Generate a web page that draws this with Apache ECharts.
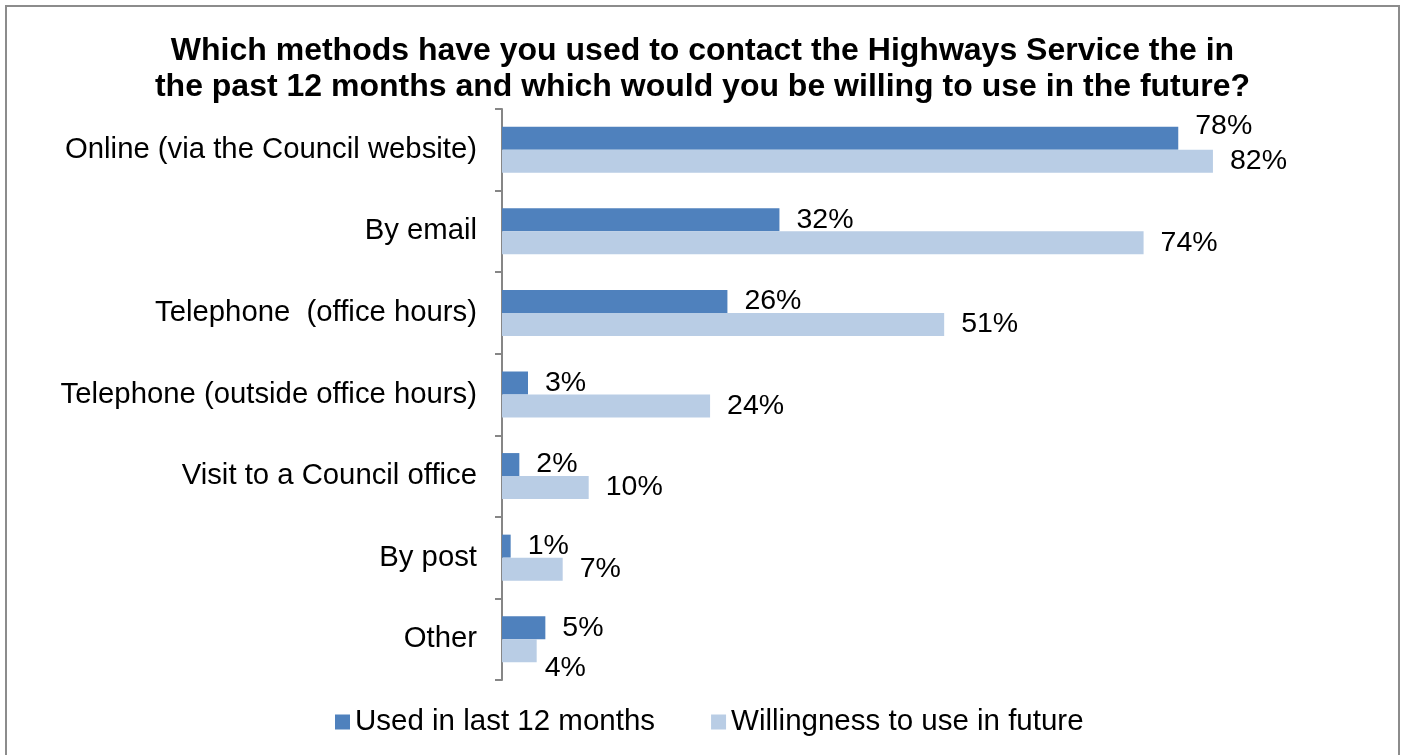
<!DOCTYPE html>
<html>
<head>
<meta charset="utf-8">
<script src="https://cdn.jsdelivr.net/npm/echarts@6/dist/echarts.min.js"></script>
<style>
  html, body { margin: 0; padding: 0; background: #fff; }
  #chart { width: 1405px; height: 755px; }
</style>
</head>
<body>
<div id="chart"></div>
<script>
// Contact methods for the Highways Service
const categories = [
  'Online (via the Council website)',
  'By email',
  'Telephone  (office hours)',
  'Telephone (outside office hours)',
  'Visit to a Council office',
  'By post',
  'Other'
];
const usedLast12Months = [78, 32, 26, 3, 2, 1, 5];
const willingnessFuture = [82, 74, 51, 24, 10, 7, 4];
const seriesNames = ['Used in last 12 months', 'Willingness to use in future'];
const titleLines = [
  'Which methods have you used to contact the Highways Service the in',
  'the past 12 months and which would you be willing to use in the future?'
];

const FONT = '"Liberation Sans", Arial, sans-serif';
const DARK = '#4F81BD';
const LIGHT = '#B9CDE5';

// Some labels are nudged where they would crowd a neighbour
const labelNudges = {
  0: { 0: [0, -12] },
  1: { 6: [-9, 17] }
};

function toData(values, seriesIndex) {
  return values.map((v, i) => {
    const nudge = labelNudges[seriesIndex] && labelNudges[seriesIndex][i];
    return nudge ? { value: v, label: { offset: nudge } } : { value: v };
  });
}

const chart = echarts.init(document.getElementById('chart'), null, { renderer: 'canvas' });

const labelStyle = {
  show: true,
  position: 'right',
  distance: 17,
  formatter: p => p.value + '%',
  fontFamily: FONT,
  fontSize: 28.5,
  color: '#000'
};

chart.setOption({
  animation: false,
  backgroundColor: '#fff',
  title: {
    text: titleLines.join('\n'),
    left: 'center',
    top: 28,
    textStyle: {
      fontFamily: FONT,
      fontWeight: 'bold',
      fontSize: 32,
      lineHeight: 36,
      color: '#000'
    }
  },
  graphic: [{
    type: 'rect',
    shape: { x: 6, y: 6, width: 1393, height: 760 },
    style: { fill: 'none', stroke: '#8c8c8c', lineWidth: 2 },
    silent: true
  }],
  legend: {
    data: seriesNames,
    bottom: 13,
    left: 330,
    icon: 'rect',
    itemWidth: 15,
    itemHeight: 15,
    itemGap: 56,
    textStyle: { fontFamily: FONT, fontSize: 29.5, color: '#000' }
  },
  grid: {
    left: 502,
    right: 36,
    top: 109,
    bottom: 75,
    containLabel: false
  },
  xAxis: {
    type: 'value',
    min: 0,
    max: 100,
    show: false
  },
  yAxis: {
    type: 'category',
    data: categories,
    inverse: true,
    axisLine: { show: true, lineStyle: { color: '#868686', width: 2 } },
    axisTick: { show: true, length: 7, lineStyle: { color: '#868686', width: 2 } },
    axisLabel: {
      margin: 25,
      fontFamily: FONT,
      fontSize: 29.3,
      color: '#000'
    },
    splitLine: { show: false }
  },
  series: [
    {
      name: seriesNames[0],
      type: 'bar',
      data: toData(usedLast12Months, 0),
      barWidth: 23,
      barGap: '0%',
      itemStyle: { color: DARK },
      label: labelStyle
    },
    {
      name: seriesNames[1],
      type: 'bar',
      data: toData(willingnessFuture, 1),
      barWidth: 23,
      barGap: '0%',
      itemStyle: { color: LIGHT },
      label: labelStyle
    }
  ]
});
</script>
</body>
</html>
